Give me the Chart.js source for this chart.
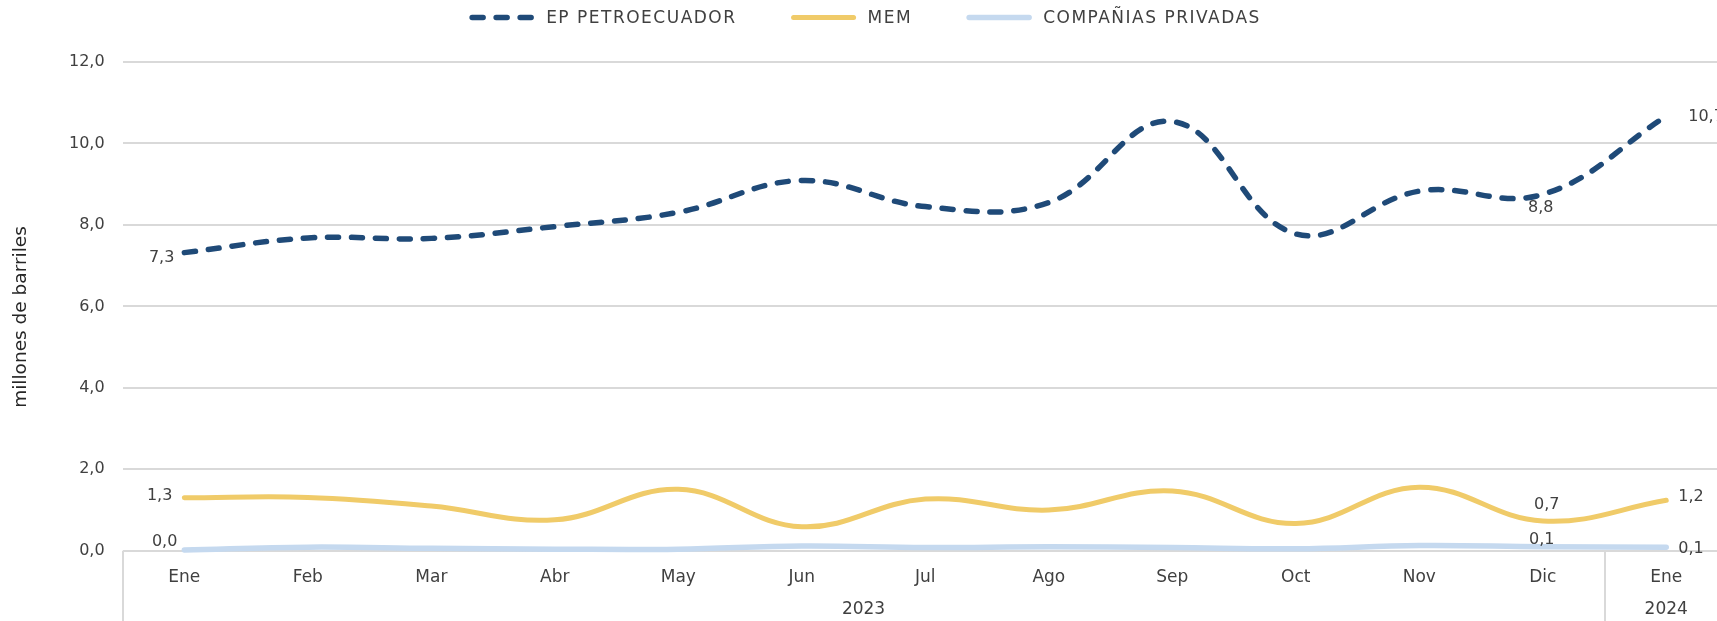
<!DOCTYPE html>
<html>
<head>
<meta charset="utf-8">
<script src="https://cdn.jsdelivr.net/npm/chart.js@4.4.1/dist/chart.umd.min.js"></script>
<style>
  html, body { margin: 0; padding: 0; background: #fff; overflow: hidden; }
  #wrap { width: 1730px; height: 621px; position: relative; }
</style>
</head>
<body>
<div id="wrap"><canvas id="chart"></canvas></div>
<script>
// data
const MONTHS = ['Ene', 'Feb', 'Mar', 'Abr', 'May', 'Jun', 'Jul', 'Ago', 'Sep', 'Oct', 'Nov', 'Dic', 'Ene'];
const YEARS = ['2023', '2024'];
const YEAR_SPAN = [12, 1];
const SERIES_NAMES = ['EP PETROECUADOR', 'MEM', 'COMPAÑIAS PRIVADAS'];
const EP_PETRO = [7.32, 7.68, 7.67, 7.96, 8.31, 9.09, 8.45, 8.55, 10.54, 7.78, 8.83, 8.75, 10.67];
const MEM = [1.30, 1.31, 1.10, 0.76, 1.51, 0.59, 1.27, 1.00, 1.47, 0.67, 1.56, 0.73, 1.24];
const PRIVADAS = [0.02, 0.09, 0.06, 0.04, 0.04, 0.12, 0.08, 0.10, 0.08, 0.05, 0.13, 0.10, 0.09];
const Y_TICKS = ['0,0', '2,0', '4,0', '6,0', '8,0', '10,0', '12,0'];
const Y_TITLE = 'millones de barriles';

const FONT = '"DejaVu Sans", sans-serif';
const TEXT = '#404040';
const GRID = '#d9d9d9';

// which points carry a value label, and where it sits
const LABEL_SPOTS = [
  { 0: { align: 'right', dx: -10, dy: 5 }, 11: { align: 'center', dx: -2, dy: 13 }, 12: { align: 'left', dx: 22, dy: 1 } },
  { 0: { align: 'right', dx: -12, dy: -2 }, 11: { align: 'center', dx: 4, dy: -16 }, 12: { align: 'left', dx: 12, dy: -3 } },
  { 0: { align: 'right', dx: -7, dy: -8 }, 11: { align: 'center', dx: -1, dy: -7 }, 12: { align: 'left', dx: 12, dy: 2 } }
];

const fmt = v => v.toFixed(1).replace('.', ',');

const pointLabels = {
  id: 'pointLabels',
  afterDatasetsDraw(chart) {
    const ctx = chart.ctx;
    ctx.save();
    ctx.font = '16px ' + FONT;
    ctx.fillStyle = TEXT;
    ctx.textBaseline = 'middle';
    chart.data.datasets.forEach((ds, di) => {
      const meta = chart.getDatasetMeta(di);
      const spots = LABEL_SPOTS[di];
      Object.keys(spots).forEach(k => {
        const pt = meta.data[k];
        const s = spots[k];
        ctx.textAlign = s.align;
        ctx.fillText(fmt(ds.data[k]), pt.x + s.dx, pt.y + s.dy);
      });
    });
    ctx.restore();
  }
};

// year row under the month labels, with separators, plus the y title
const yearAxis = {
  id: 'yearAxis',
  afterDraw(chart) {
    const ctx = chart.ctx;
    const x = chart.scales.x;
    const half = (x.getPixelForValue(1) - x.getPixelForValue(0)) / 2;
    const top = chart.chartArea.bottom;
    ctx.save();
    ctx.strokeStyle = GRID;
    ctx.lineWidth = 2;
    ctx.font = '17px ' + FONT;
    ctx.fillStyle = TEXT;
    ctx.textAlign = 'center';
    ctx.textBaseline = 'middle';
    let start = 0;
    YEARS.forEach((yr, i) => {
      const end = start + YEAR_SPAN[i] - 1;
      const left = x.getPixelForValue(start) - half;
      const right = x.getPixelForValue(end) + half;
      [left, right].forEach(px => {
        ctx.beginPath();
        ctx.moveTo(Math.round(px), top);
        ctx.lineTo(Math.round(px), chart.height);
        ctx.stroke();
      });
      ctx.fillText(yr, (left + right) / 2, 610);
      start = end + 1;
    });

    ctx.translate(21, 317);
    ctx.rotate(-Math.PI / 2);
    ctx.font = '18.5px ' + FONT;
    ctx.fillStyle = '#262626';
    ctx.fillText(Y_TITLE, 0, 0);
    ctx.restore();
  }
};

// legend drawn as line samples, centred at the top
const lineLegend = {
  id: 'lineLegend',
  afterDraw(chart) {
    const ctx = chart.ctx;
    const sample = 66, gapText = 11, gapItem = 54, y = 17.5;
    ctx.save();
    ctx.font = '17px ' + FONT;
    ctx.letterSpacing = '1.5px';
    const items = chart.data.datasets.map(ds => ({ ds, w: ctx.measureText(ds.label).width }));
    let total = items.reduce((a, it) => a + sample + gapText + it.w, 0) + gapItem * (items.length - 1);
    let cx = 865 - total / 2;
    items.forEach(it => {
      ctx.strokeStyle = it.ds.borderColor;
      ctx.lineWidth = it.ds.borderWidth;
      ctx.lineCap = 'round';
      ctx.setLineDash(it.ds.borderDash || []);
      ctx.beginPath();
      ctx.moveTo(cx + 3, y);
      ctx.lineTo(cx + sample - 3, y);
      ctx.stroke();
      ctx.setLineDash([]);
      ctx.fillStyle = TEXT;
      ctx.textBaseline = 'middle';
      ctx.textAlign = 'left';
      ctx.fillText(it.ds.label, cx + sample + gapText, y + 1);
      cx += sample + gapText + it.w + gapItem;
    });
    ctx.restore();
  }
};

const ctx = document.getElementById('chart').getContext('2d');
new Chart(ctx, {
  type: 'line',
  data: {
    labels: MONTHS,
    datasets: [
      {
        label: SERIES_NAMES[0],
        data: EP_PETRO,
        borderColor: '#1f4a78',
        backgroundColor: '#1f4a78',
        borderWidth: 5.5,
        borderDash: [11, 13],
        borderCapStyle: 'round',
        tension: 0.4,
        pointRadius: 0,
        clip: false
      },
      {
        label: SERIES_NAMES[1],
        data: MEM,
        borderColor: '#f0cb69',
        backgroundColor: '#f0cb69',
        borderWidth: 5,
        borderCapStyle: 'round',
        tension: 0.4,
        pointRadius: 0,
        clip: false
      },
      {
        label: SERIES_NAMES[2],
        data: PRIVADAS,
        borderColor: '#c5d9ef',
        backgroundColor: '#c5d9ef',
        borderWidth: 5.5,
        borderCapStyle: 'round',
        tension: 0.4,
        pointRadius: 0,
        clip: false
      }
    ]
  },
  options: {
    responsive: true,
    maintainAspectRatio: false,
    animation: false,
    layout: { padding: { top: 62, right: 2, left: 0, bottom: 0 } },
    plugins: {
      legend: { display: false },
      tooltip: { enabled: false }
    },
    scales: {
      x: {
        offset: true,
        grid: { display: false },
        border: { display: false },
        ticks: { color: TEXT, font: { family: FONT, size: 17 }, padding: 9, maxRotation: 0, autoSkip: false },
        afterFit: s => { s.height = 70.2; }
      },
      y: {
        min: 0,
        max: 12,
        grid: { color: GRID, lineWidth: 2, drawTicks: false },
        border: { display: false },
        ticks: {
          stepSize: 2,
          color: TEXT,
          font: { family: FONT, size: 16 },
          padding: 18,
          callback: (v, i) => Y_TICKS[i]
        },
        afterFit: s => { s.width = 122.6; }
      }
    }
  },
  plugins: [pointLabels, yearAxis, lineLegend]
});
</script>
</body>
</html>
